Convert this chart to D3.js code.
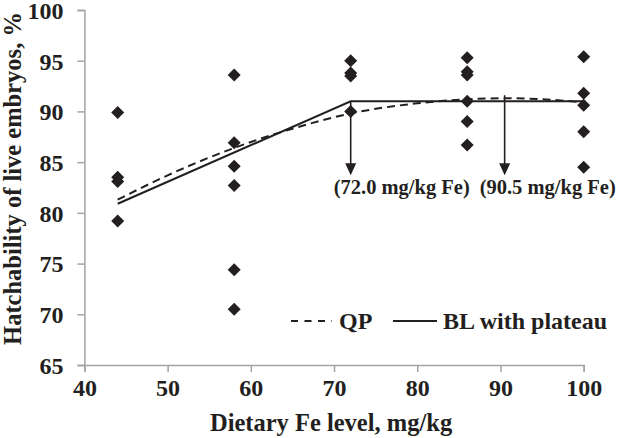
<!DOCTYPE html>
<html><head><meta charset="utf-8">
<script src="https://cdn.jsdelivr.net/npm/d3@7"></script>
<style>html,body{margin:0;padding:0;background:#fff;}svg{display:block;}</style>
</head><body>
<svg id="c" width="619" height="438"></svg>
<script>
// Observed hatchability (%) at each dietary Fe level
const feLevels = [44, 58, 72, 86, 100];
const obs44 = [89.9, 83.5, 83.1, 79.2];
const obs58 = [93.6, 86.9, 84.6, 82.7, 74.4, 70.5];
const obs72 = [95.0, 93.8, 93.5, 90.0];
const obs86 = [95.3, 93.9, 93.6, 91.0, 89.0, 86.7];
const obs100 = [95.4, 91.8, 90.6, 88.0, 84.5];
// QP curve
const qpX = [44, 50, 58, 65, 72, 80, 86, 90.5, 95, 100];
const qpY = [81.3, 83.7, 86.4, 88.3, 89.8, 90.8, 91.2, 91.3, 91.2, 90.9];
// Broken-line with plateau
const blX = [44, 72, 100];
const blY = [80.9, 91.0, 91.0];
// Break points
const breakX = [72.0, 90.5];
const breakLabels = ["(72.0 mg/kg Fe)", "(90.5 mg/kg Fe)"];
const xTicks = [40, 50, 60, 70, 80, 90, 100];
const yTicks = [65, 70, 75, 80, 85, 90, 95, 100];

const font = "'Liberation Serif','Times New Roman',serif";
const ink = "#231f20";
const svg = d3.select("#c");
const x = d3.scaleLinear().domain([40, 100]).range([84.4, 583.7]);
const y = d3.scaleLinear().domain([65, 100]).range([365, 10]);
const axisCol = "#a3a3a3";

// axes
const gx = svg.append("g").attr("transform", `translate(0,${y(65)})`)
  .call(d3.axisBottom(x).tickValues(xTicks).tickSize(7).tickPadding(8).tickFormat(d3.format("d")));
const gy = svg.append("g").attr("transform", `translate(${x(40)},0)`)
  .call(d3.axisLeft(y).tickValues(yTicks).tickSize(7).tickPadding(14).tickFormat(d3.format("d")));
[gx, gy].forEach(g => {
  g.select(".domain").attr("stroke", axisCol).attr("stroke-width", 1.5);
  g.selectAll(".tick line").attr("stroke", axisCol).attr("stroke-width", 1.5);
  g.selectAll("text").attr("fill", ink).style("font-family", font)
    .style("font-weight", "bold").style("font-size", "24px");
});
gy.selectAll("text").attr("dy", "0.35em");
gx.selectAll("text").attr("dy", "0.68em");

// axis titles
svg.append("text").attr("x", (x(40) + x(100)) / 2 - 3).attr("y", 431)
  .attr("text-anchor", "middle").attr("fill", ink)
  .style("font-family", font).style("font-weight", "bold").style("font-size", "24.5px")
  .text("Dietary Fe level, mg/kg");
svg.append("text").attr("transform", `translate(21,${(y(65)+y(100))/2 - 9}) rotate(-90)`)
  .attr("text-anchor", "middle").attr("fill", ink)
  .style("font-family", font).style("font-weight", "bold").style("font-size", "24.5px")
  .text("Hatchability of live embryos, %");

// lines
const line = d3.line().x(d => x(d[0])).y(d => y(d[1]));
const qpCurve = d3.line().x(d => x(d[0])).y(d => y(d[1])).curve(d3.curveMonotoneX);
svg.append("path").datum(qpX.map((v, i) => [v, qpY[i]])).attr("d", qpCurve)
  .attr("fill", "none").attr("stroke", ink).attr("stroke-width", 2).attr("stroke-dasharray", "8,5");
svg.append("path").datum(blX.map((v, i) => [v, blY[i]])).attr("d", line)
  .attr("fill", "none").attr("stroke", ink).attr("stroke-width", 2);

// points
const obsAll = [obs44, obs58, obs72, obs86, obs100];
const pts = [];
feLevels.forEach((fe, i) => obsAll[i].forEach(v => pts.push([fe, v])));
const r = 6.5;
svg.append("g").selectAll("path").data(pts).join("path")
  .attr("transform", d => `translate(${x(d[0])},${y(d[1])})`)
  .attr("d", `M0,${-r}L${r},0L0,${r}L${-r},0Z`).attr("fill", ink);

// arrows
const arrowTop = [91.0, 91.6];
const arrowTip = 83.7;
breakX.forEach((bx, i) => {
  const ax = x(bx), y0 = y(arrowTop[i]), y1 = y(arrowTip);
  svg.append("line").attr("x1", ax).attr("x2", ax).attr("y1", y0).attr("y2", y1 - 10)
    .attr("stroke", ink).attr("stroke-width", 1.6);
  svg.append("path").attr("d", `M${ax - 5.5},${y1 - 12}L${ax + 5.5},${y1 - 12}L${ax},${y1}Z`).attr("fill", ink);
  svg.append("text").attr("x", ax + (i === 0 ? -17 : -25)).attr("y", y1 + 19)
    .attr("fill", ink).style("font-family", font).style("font-weight", "bold").style("font-size", "20.5px")
    .text(breakLabels[i]);
});

// legend
const lg = svg.append("g");
const ly = 321;
lg.append("line").attr("x1", 291).attr("x2", 332).attr("y1", ly).attr("y2", ly)
  .attr("stroke", ink).attr("stroke-width", 2).attr("stroke-dasharray", "7,6.5");
lg.append("text").attr("x", 339).attr("y", ly + 8).attr("fill", ink)
  .style("font-family", font).style("font-weight", "bold").style("font-size", "24px").text("QP");
lg.append("line").attr("x1", 393).attr("x2", 437).attr("y1", ly).attr("y2", ly)
  .attr("stroke", ink).attr("stroke-width", 2);
lg.append("text").attr("x", 443).attr("y", ly + 8).attr("fill", ink)
  .style("font-family", font).style("font-weight", "bold").style("font-size", "24px").text("BL with plateau");
</script>
</body></html>
